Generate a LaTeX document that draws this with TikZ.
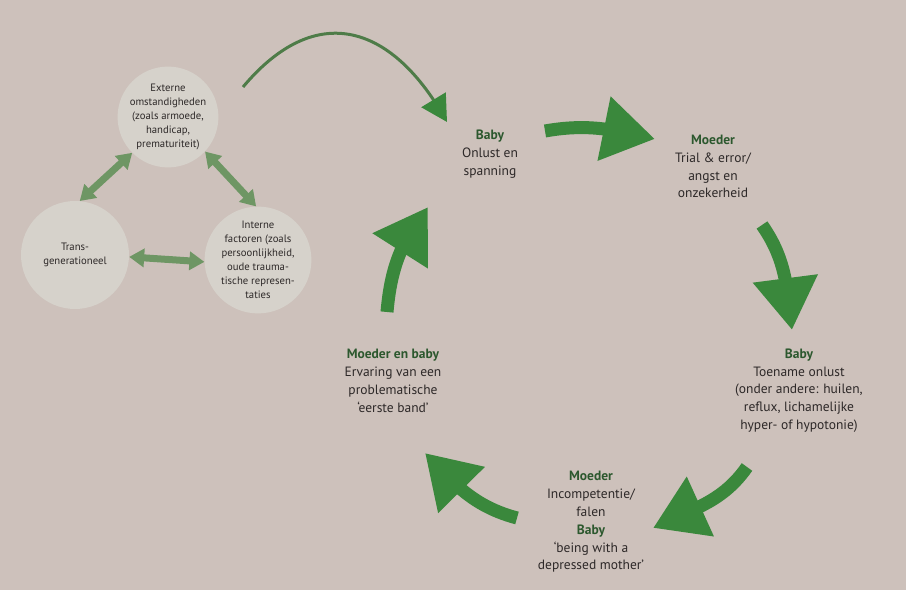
\documentclass[tikz,border=0pt]{standalone}
\usepackage{fontspec}
\setmainfont{PT Sans}
\usepackage{xcolor}
\usepackage{tikz}
\usetikzlibrary{arrows.meta, bending}

\definecolor{achtergrond}{RGB}{205,193,187}
\definecolor{cirkelgrijs}{RGB}{214,210,203}
\definecolor{groen}{RGB}{58,136,60}
\definecolor{lichtgroen}{RGB}{110,150,100}
\definecolor{boog}{RGB}{78,124,72}
\definecolor{kopgroen}{RGB}{44,88,46}
\definecolor{tekstgrijs}{RGB}{45,40,40}

\newcommand{\kop}[1]{\textcolor{kopgroen}{\textbf{#1}}}

\begin{document}
\begin{tikzpicture}[x=1pt, y=1pt,
		cirkel/.style={circle, fill=cirkelgrijs, inner sep=0pt, align=center, text=tekstgrijs, font=\fontsize{10.7}{14}\selectfont},
		tekst/.style={align=center, text=tekstgrijs, font=\fontsize{13.5}{17.8}\selectfont},
		pijl/.style={line width=13pt, draw=groen, -{Triangle[length=52pt, width=62pt]}},
		dubbel/.style={line width=7pt, draw=lichtgroen, {Triangle[length=15pt, width=18pt]}-{Triangle[length=15pt, width=18pt]}}]

		% achtergrond
		\fill[achtergrond] (0, 0) rectangle (906, 590);
		\useasboundingbox (0, 0) rectangle (906, 590);

		% drie cirkels
		\node[cirkel, minimum size=100pt] (ext) at (168, 473) {Externe\\omstandigheden\\(zoals armoede,\\handicap,\\prematuriteit)};
		\node[cirkel, minimum size=108pt] (trans) at (75, 335) {Trans-\\generationeel};
		\node[cirkel, minimum size=104pt] (intern) at (258, 330) {Interne\\factoren (zoals\\persoonlijkheid,\\oude trauma-\\tische represen-\\taties};

		\draw[dubbel] (ext.225) -- (trans.85);
		\draw[dubbel] (ext.-43) -- (intern.92);
		\draw[dubbel] (trans.-2) -- (intern.182);

		% teksten van de cirkel
		\node[tekst] (baby1) at (490, 436) {\kop{Baby}\\Onlust en\\spanning};
		\node[tekst] (moeder1) at (713, 423.5) {\kop{Moeder}\\Trial \& error/\\angst en\\onzekerheid};
		\node[tekst] (baby2) at (799, 199.5) {\kop{Baby}\\Toename onlust\\(onder andere: huilen,\\reflux, lichamelijke\\hyper- of hypotonie)};
		\node[tekst] (moeder2) at (591, 68) {\kop{Moeder}\\Incompetentie/\\falen\\\kop{Baby}\\`being with a\\depressed mother'};
		\node[tekst] (samen) at (393, 209) {\kop{Moeder en baby}\\Ervaring van een\\problematische\\`eerste band'};

		% punten voor de pijlen
		\coordinate (p1s) at (545, 459);
		\coordinate (p1e) at (655, 451);
		\coordinate (p2s) at (762, 365);
		\coordinate (p2e) at (792, 260);
		\coordinate (p3s) at (747, 123);
		\coordinate (p3e) at (653, 62);
		\coordinate (p4s) at (517, 72);
		\coordinate (p4e) at (425, 137);
		\coordinate (p5s) at (387, 278);
		\coordinate (p5e) at (428, 383);
		\coordinate (bs) at (243, 503);
		\coordinate (be) at (447, 468);

		% dikke pijlen
		\draw[pijl] (p1s) to[out=10, in=167] (p1e);
		\draw[pijl] (p2s) to[out=-55, in=97] (p2e);
		\draw[pijl] (p3s) to[out=235, in=26] (p3e);
		\draw[pijl] (p4s) to[out=165, in=-47] (p4e);
		\draw[pijl] (p5s) to[out=85, in=232] (p5e);

		% dunne boog
		\draw[boog, line width=3pt, -{Triangle[length=26pt, width=28pt, color=groen]}] (bs) to[out=50, in=119, looseness=1.4] (be);
	\end{tikzpicture}
\end{document}
